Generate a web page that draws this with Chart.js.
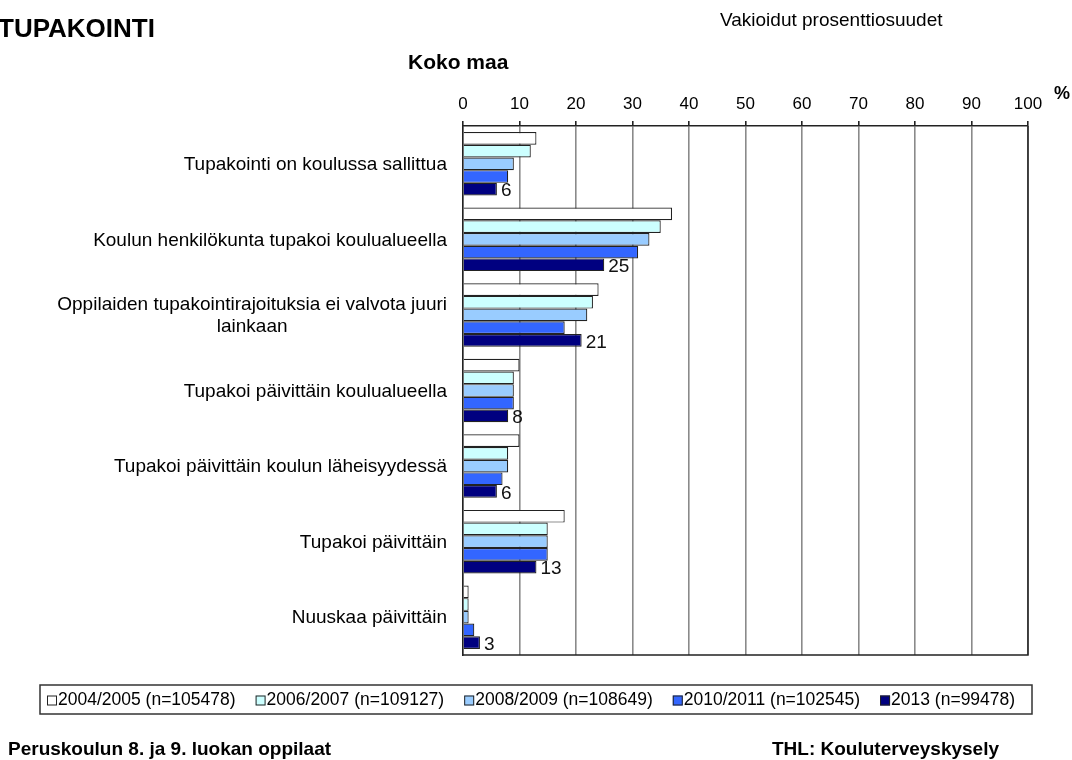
<!DOCTYPE html>
<html>
<head>
<meta charset="utf-8">
<script src="https://cdn.jsdelivr.net/npm/chart.js@4.4.1/dist/chart.umd.min.js"></script>
<style>
  html, body { margin: 0; padding: 0; background: #fff; }
  #wrap { width: 1072px; height: 760px; position: relative; }
</style>
</head>
<body>
<div id="wrap"><canvas id="chart" width="1072" height="760"></canvas></div>
<script>
// Categories (multi-line labels as arrays)
const categories = [
    'Tupakointi on koulussa sallittua',
    'Koulun henkilökunta tupakoi koulualueella',
    ['Oppilaiden tupakointirajoituksia ei valvota juuri', 'lainkaan'],
    'Tupakoi päivittäin koulualueella',
    'Tupakoi päivittäin koulun läheisyydessä',
    'Tupakoi päivittäin',
    'Nuuskaa päivittäin'
];

const seriesLabels = [
    '2004/2005 (n=105478)',
    '2006/2007 (n=109127)',
    '2008/2009 (n=108649)',
    '2010/2011 (n=102545)',
    '2013 (n=99478)'
];

const values2004 = [13, 37, 24, 10, 10, 18, 1];
const values2006 = [12, 35, 23, 9, 8, 15, 1];
const values2008 = [9, 33, 22, 9, 8, 15, 1];
const values2010 = [8, 31, 18, 9, 7, 15, 2];
const values2013 = [6, 25, 21, 8, 6, 13, 3];

const xTicks = [0, 10, 20, 30, 40, 50, 60, 70, 80, 90, 100];

const colors = ['#ffffff', '#ccffff', '#99ccff', '#3366ff', '#000080'];
const allValues = [values2004, values2006, values2008, values2010, values2013];

const FONT = '"Liberation Sans", Arial, sans-serif';

// Draw extra texts, category labels, value labels and legend
const decorPlugin = {
    id: 'decor',
    afterDraw(chart) {
        const ctx = chart.ctx;
        const area = chart.chartArea;
        const yScale = chart.scales.y;
        ctx.save();

        // bottom and right border of plot
        ctx.strokeStyle = '#222';
        ctx.lineWidth = 1.5;
        ctx.beginPath();
        ctx.moveTo(area.left, area.bottom);
        ctx.lineTo(area.right, area.bottom);
        ctx.lineTo(area.right, area.top);
        ctx.stroke();

        // titles
        ctx.fillStyle = '#000';
        ctx.textBaseline = 'alphabetic';
        ctx.textAlign = 'left';
        ctx.font = 'bold 26px ' + FONT;
        ctx.fillText('TUPAKOINTI', -2, 37);
        ctx.font = 'bold 21px ' + FONT;
        ctx.fillText('Koko maa', 408, 69);
        ctx.font = '19px ' + FONT;
        ctx.fillText('Vakioidut prosenttiosuudet', 720, 26);
        ctx.font = 'bold 18px ' + FONT;
        ctx.fillText('%', 1054, 99);
        ctx.font = 'bold 19px ' + FONT;
        ctx.fillText('Peruskoulun 8. ja 9. luokan oppilaat', 8, 755);
        ctx.fillText('THL: Kouluterveyskysely', 772, 755);

        // category labels
        ctx.font = '19px ' + FONT;
        ctx.textBaseline = 'middle';
        categories.forEach((cat, i) => {
            const y = yScale.getPixelForTick(i);
            const lines = Array.isArray(cat) ? cat : [cat];
            const widest = Math.max(...lines.map(l => ctx.measureText(l).width));
            const right = area.left - 16;
            const center = right - widest / 2;
            const lh = 22;
            const startY = y - (lines.length - 1) * lh / 2 + 1;
            ctx.textAlign = 'center';
            lines.forEach((l, k) => {
                ctx.fillText(l, center, startY + k * lh);
            });
        });

        // value labels for last series
        const meta = chart.getDatasetMeta(4);
        ctx.textAlign = 'left';
        ctx.font = '19px ' + FONT;
        ctx.fillStyle = '#111';
        meta.data.forEach((bar, i) => {
            ctx.fillText(String(values2013[i]), bar.x + 4, bar.y + 2);
        });

        // legend box
        const lx = 40, ly = 685, lw = 992, lh = 29;
        ctx.fillStyle = '#fff';
        ctx.fillRect(lx, ly, lw, lh);
        ctx.strokeStyle = '#333';
        ctx.lineWidth = 1.5;
        ctx.strokeRect(lx, ly, lw, lh);
        ctx.font = '17.5px ' + FONT;
        ctx.textBaseline = 'middle';
        let x = 47;
        seriesLabels.forEach((lab, i) => {
            ctx.fillStyle = colors[i];
            ctx.fillRect(x, ly + lh / 2 - 4, 10, 10);
            ctx.strokeStyle = '#222';
            ctx.lineWidth = 1;
            ctx.strokeRect(x + 0.5, ly + lh / 2 - 3.5, 9, 9);
            ctx.fillStyle = '#000';
            ctx.textAlign = 'left';
            ctx.fillText(lab, x + 11, ly + lh / 2 + 1);
            x += 11 + ctx.measureText(lab).width + 20;
        });

        ctx.restore();
    }
};

const datasets = seriesLabels.map((label, i) => ({
    label: label,
    data: allValues[i],
    backgroundColor: colors[i],
    borderColor: '#222',
    borderWidth: 1.2,
    borderSkipped: 'start',
    categoryPercentage: 0.84,
    barPercentage: 1.0
}));

new Chart(document.getElementById('chart'), {
    type: 'bar',
    data: {
        labels: categories,
        datasets: datasets
    },
    options: {
        indexAxis: 'y',
        responsive: false,
        animation: false,
        layout: {
            padding: { top: 86, bottom: 105, left: 0, right: 44 }
        },
        plugins: {
            legend: { display: false },
            tooltip: { enabled: false }
        },
        scales: {
            x: {
                position: 'top',
                min: 0,
                max: 100,
                afterBuildTicks: function(scale) {
                    scale.ticks = xTicks.map(v => ({ value: v }));
                },
                afterFit: function(scale) {
                    scale.height = 40;
                },
                ticks: {
                    color: '#000',
                    padding: 6,
                    font: { family: FONT, size: 17 }
                },
                grid: {
                    color: '#8a8a8a',
                    lineWidth: 1.6,
                    tickColor: '#222',
                    tickLength: 5
                },
                border: {
                    color: '#222',
                    width: 1.5
                }
            },
            y: {
                offset: true,
                afterFit: function(scale) {
                    scale.width = 463;
                },
                ticks: {
                    display: false
                },
                grid: {
                    display: false
                },
                border: {
                    color: '#222',
                    width: 1.5
                }
            }
        }
    },
    plugins: [decorPlugin]
});
</script>
</body>
</html>
